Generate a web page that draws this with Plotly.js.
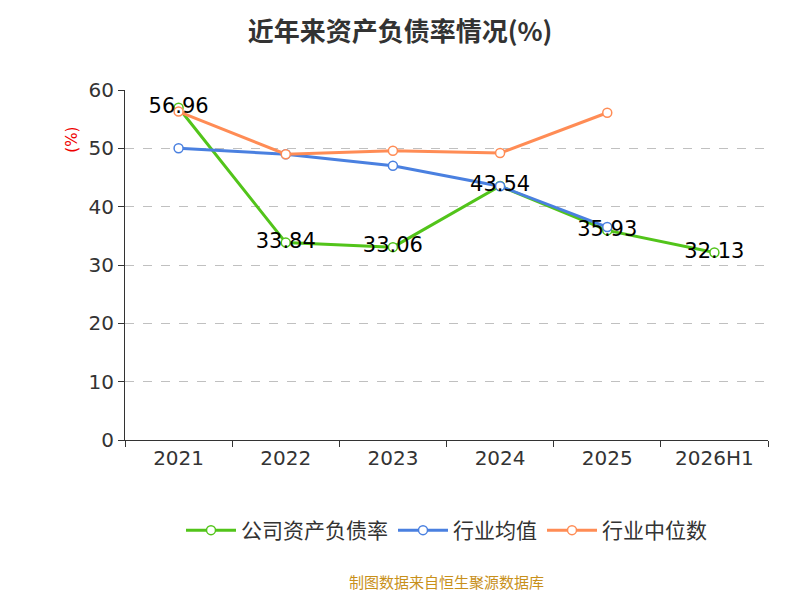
<!DOCTYPE html>
<html>
<head>
<meta charset="utf-8">
<script src="https://cdn.plot.ly/plotly-3.0.1.min.js"></script>
<style>body{margin:0;}#chart{width:800px;height:600px;}</style>
</head>
<body>
<div id="chart"></div>
<script>
var years = ['2021', '2022', '2023', '2024', '2025', '2026H1'];
var company = [56.96, 33.84, 33.06, 43.54, 35.93, 32.13];
var industryAvg = [50.0, 49.0, 47.0, 43.5, 36.5, null];
var industryMedian = [56.3, 49.0, 49.6, 49.2, 56.1, null];

function series(name, y, color) {
  return {
    x: years, y: y, name: name, type: 'scatter', mode: 'lines+markers',
    line: {color: color, width: 3},
    marker: {size: 9, color: '#fff', line: {color: color, width: 1.5}},
    cliponaxis: false
  };
}

var data = [
  series('公司资产负债率', company, '#52c41a'),
  series('行业均值', industryAvg, '#4a80e0'),
  series('行业中位数', industryMedian, '#ff8c55'),
  {
    x: years, y: company, type: 'scatter', mode: 'text', showlegend: false,
    text: company.map(function (v) { return v.toFixed(2); }),
    textposition: 'middle center', textfont: {size: 21, color: '#000', family: 'DejaVu Sans, sans-serif'},
    cliponaxis: false, hoverinfo: 'skip'
  }
];

var layout = {
  width: 800, height: 600,
  margin: {l: 125, r: 32, t: 90, b: 160},
  paper_bgcolor: '#fff', plot_bgcolor: '#fff',
  font: {family: 'DejaVu Sans, Noto Sans CJK SC, sans-serif', color: '#333'},
  title: {text: '<b>近年来资产负债率情况(%)</b>', x: 0.5, y: 0.962,
          font: {size: 26, color: '#333', family: 'Noto Sans CJK SC, sans-serif'}},
  xaxis: {
    type: 'category', range: [-0.5, 5.5], autorange: false, showgrid: false,
    showline: true, linecolor: '#333',
    ticks: 'outside', ticklen: 6, tickson: 'boundaries', tickcolor: '#333',
    tickfont: {size: 20, color: '#333'}
  },
  yaxis: {
    range: [0, 60], dtick: 10, showline: true, linecolor: '#333',
    ticks: 'outside', ticklen: 6, tickcolor: '#333',
    gridcolor: '#c0c0c0', griddash: 'dash', zeroline: false,
    tickfont: {size: 20, color: '#333'}
  },
  annotations: [
    {text: '(%)', xref: 'paper', yref: 'paper', x: -0.1, y: 0.9, showarrow: false,
     textangle: -90, font: {size: 15, color: '#e00'}},
    {text: '制图数据来自恒生聚源数据库', xref: 'paper', yref: 'paper', x: 0.5, y: -0.44,
     showarrow: false, font: {size: 15, color: '#c8901a', family: 'Noto Sans CJK SC, sans-serif'}}
  ],
  legend: {orientation: 'h', x: 0.5, xanchor: 'center', y: -0.2, itemwidth: 50,
           font: {size: 21, color: '#333', family: 'Noto Sans CJK SC, sans-serif'}}
};

Plotly.newPlot('chart', data, layout, {displayModeBar: false});
</script>
</body>
</html>
